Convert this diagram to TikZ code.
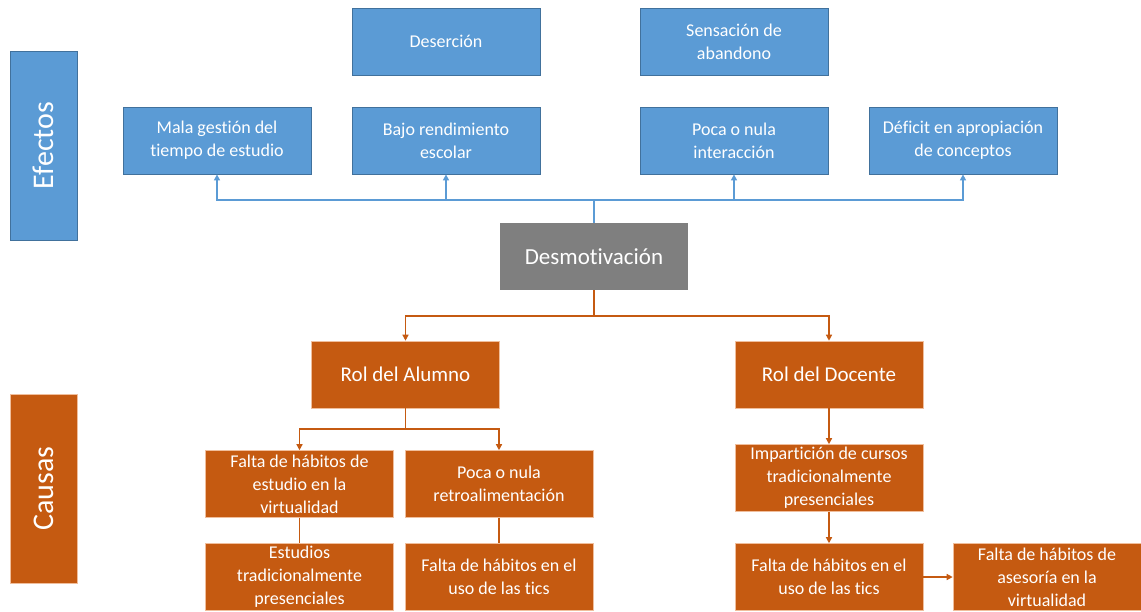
\documentclass[tikz,border=0pt]{standalone}
\usepackage{fontspec}
\setmainfont{Carlito}[Ligatures={NoCommon}]
\usetikzlibrary{arrows.meta}
\definecolor{eblue}{HTML}{5B9BD5}
\definecolor{eblueb}{HTML}{41719C}
\definecolor{corange}{HTML}{C55A11}
\definecolor{corangeb}{HTML}{F0BE9C}
\definecolor{dgray}{HTML}{7F7F7F}
\tikzset{
  box/.style={rectangle, minimum width=188pt, minimum height=67pt, inner sep=2pt,
    text=white, align=center, font=\fontsize{18}{23}\selectfont},
  bluebox/.style={box, fill=eblue, draw=eblueb, line width=0.8pt},
  orbox/.style={box, fill=corange, draw=corangeb, line width=0.6pt},
  rolbox/.style={orbox, font=\fontsize{21}{25}\selectfont},
  graybox/.style={box, fill=dgray, draw=none, font=\fontsize{23}{27}\selectfont},
  sidebox/.style={rectangle, minimum width=67pt, minimum height=189pt, inner sep=0pt},
  sidetext/.style={text=white, rotate=90, font=\fontsize{30}{34}\selectfont},
  bline/.style={draw=eblue, line width=1.3pt},
  oline/.style={draw=corange, line width=1.3pt},
  tip/.style={-{Triangle[width=6pt,length=6pt]}},
}
\begin{document}
\begin{tikzpicture}[x=1pt,y=-1pt]
\useasboundingbox (0,0) rectangle (1141,611);
\fill[white] (0,0) rectangle (1141,611);
% side labels
\node[sidebox, fill=eblue, draw=eblueb, line width=0.8pt] (ef) at (43.5,145.5) {};
\node[sidetext] at (ef.center) {Efectos};
\node[sidebox, fill=corange, draw=corangeb, line width=0.6pt] (ca) at (43.5,488.5) {};
\node[sidetext] at (ca.center) {Causas};
% effects
\node[bluebox] (des) at (446,41.5) {Deserción};
\node[bluebox] (sen) at (734,41.5) {Sensación de\\abandono};
\node[bluebox] (mal) at (217,140.5) {Mala gestión del\\tiempo de estudio};
\node[bluebox] (baj) at (446,140.5) {Bajo rendimiento\\escolar};
\node[bluebox] (poc) at (734,140.5) {Poca o nula\\interacción};
\node[bluebox] (def) at (963,140.5) {Déficit en apropiación\\de conceptos};
% center
\node[graybox] (mot) at (594,256.5) {Desmotivación};
% roles
\node[rolbox] (alu) at (405.5,374.5) {Rol del Alumno};
\node[rolbox] (doc) at (829,374.5) {Rol del Docente};
% causes
\node[orbox] (fhe) at (299.5,484) {Falta de hábitos de\\estudio en la\\virtualidad};
\node[orbox] (pnr) at (499,484) {Poca o nula\\retroalimentación};
\node[orbox] (etp) at (299.5,577) {Estudios\\tradicionalmente\\presenciales};
\node[orbox] (fht) at (499,577) {Falta de hábitos en el\\uso de las tics};
\node[orbox] (imp) at (829,478) {Impartición de cursos\\tradicionalmente\\presenciales};
\node[orbox] (fhd) at (829,577) {Falta de hábitos en el\\uso de las tics};
\node[orbox] (ase) at (1047,577) {Falta de hábitos de\\asesoría en la\\virtualidad};
% effect connectors
\coordinate (bt) at (594,200);
\draw[bline] (mot.north) -- (bt);
\draw[bline,tip] (bt) -| (mal.south);
\draw[bline,tip] (bt) -| (baj.south);
\draw[bline,tip] (bt) -| (poc.south);
\draw[bline,tip] (bt) -| (def.south);
% cause connectors
\coordinate (ct) at (594,316);
\draw[oline] (mot.south) -- (ct);
\draw[oline,tip] (ct) -| (alu.north);
\draw[oline,tip] (ct) -| (doc.north);
\coordinate (at) at (405.5,429);
\draw[oline] (alu.south) -- (at);
\draw[oline,tip] (at) -| (fhe.north);
\draw[oline,tip] (at) -| (pnr.north);
\draw[oline] (fhe.south) -- (etp.north);
\draw[oline] (pnr.south) -- (fht.north);
\draw[oline,tip] (doc.south) -- (imp.north);
\draw[oline,tip] (imp.south) -- (fhd.north);
\draw[oline,tip] (fhd.east) -- (ase.west);
\end{tikzpicture}
\end{document}
